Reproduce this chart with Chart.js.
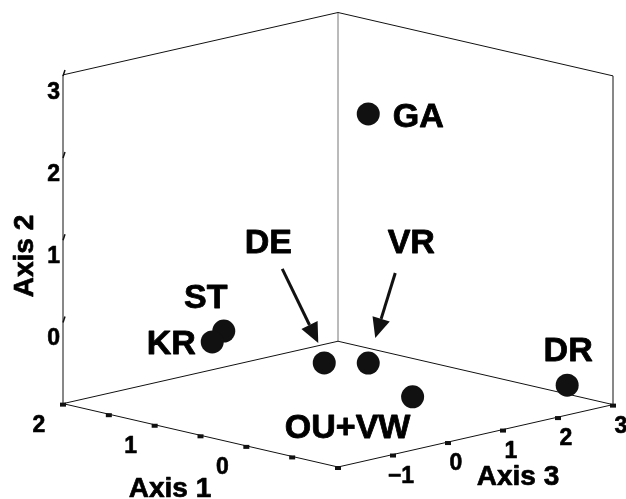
<!DOCTYPE html>
<html>
<head>
<meta charset="utf-8">
<script src="https://cdn.jsdelivr.net/npm/chart.js@4.4.1/dist/chart.umd.min.js"></script>
<style>
  html, body { margin: 0; padding: 0; background: #fff; }
  #wrap { width: 626px; height: 499px; position: relative; }
</style>
</head>
<body>
<div id="wrap"><canvas id="c"></canvas></div>
<script>
// ---- data ----
const sites  = ["GA", "ST", "KR", "DE", "VR", "OU+VW", "DR"];
const axis1  = [-0.19, 0.90, 0.90, 0.38, 0.14, -0.71, -0.68];
const axis2  = [ 2.80, 0.00, -0.10, -0.40, -0.40, -0.50, -0.80];
const axis3  = [-0.10, -0.91, -1.12, 0.05, 0.45, -0.16, 2.70];

const axis1Range = [-1, 2];
const axis2Range = [-1, 3];
const axis3Range = [-2, 3];
const axis1Ticks = [2, 1.5, 1, 0.5, 0, -0.5, -1];
const axis1Labels = ["2", "", "1", "", "0", "", ""];
const axis2Ticks = [0, 1, 2, 3];
const axis2Labels = ["0", "1", "2", "3"];
const axis3Ticks = [-2, -1, 0, 1, 2, 3];
const axis3Labels = ["", "\u22121", "0", "1", "2", "3"];

// ---- view (projection of the 3-D box onto the page plane) ----
const VIEW = { rise1: 0.2327, rise3: 0.2291, up: 0.3018 };
function project(a1, a2, a3) {
  const t1 = (a1 - axis1Range[0]) / (axis1Range[1] - axis1Range[0]);
  const t3 = (a3 - axis3Range[0]) / (axis3Range[1] - axis3Range[0]);
  return {
    x: -t1 + t3,
    y: VIEW.rise1 * t1 + VIEW.rise3 * t3 + VIEW.up * (a2 - axis2Range[0])
  };
}

// label placement (pixel offsets from each point), styling
const labelOffsets = {
  "GA": [50, 13], "ST": [-18, -23], "KR": [-41, 12], "DE": [-56, -110],
  "VR": [43, -110], "OU+VW": [-65, 41], "DR": [1, -24]
};
const arrowOffsets = {
  "DE": { from: [-42, -94], to: [-6, -20] },
  "VR": { from: [27, -90], to: [7, -25] }
};
const FONT = '"Liberation Sans", Arial, Helvetica, sans-serif';

const points = sites.map((s, i) => project(axis1[i], axis2[i], axis3[i]));

function px(chart, p) {
  return { x: chart.scales.x.getPixelForValue(p.x), y: chart.scales.y.getPixelForValue(p.y) };
}

function boldText(ctx, txt, x, y, sw) {
  ctx.fillText(txt, x, y);
  ctx.lineWidth = sw;
  ctx.strokeStyle = '#000';
  ctx.lineJoin = 'round';
  ctx.strokeText(txt, x, y);
}

const boxPlugin = {
  id: 'box3d',
  beforeDatasetsDraw(chart) {
    const ctx = chart.ctx;
    const P = (a1, a2, a3) => px(chart, project(a1, a2, a3));
    const [m1, M1] = axis1Range, [m2, M2] = axis2Range, [m3, M3] = axis3Range;
    ctx.save();
    ctx.lineCap = 'butt';
    function line(a, b, color, w) {
      ctx.beginPath(); ctx.strokeStyle = color; ctx.lineWidth = w || 1;
      ctx.moveTo(a.x, a.y); ctx.lineTo(b.x, b.y); ctx.stroke();
    }
    // back vertical (grey)
    line(P(M1, m2, M3), P(M1, M2, M3), '#777', 1);
    // verticals
    line(P(M1, m2, m3), P(M1, M2, m3), '#111', 1);
    line(P(m1, m2, M3), P(m1, M2, M3), '#111', 1);
    // top edges
    line(P(M1, M2, m3), P(M1, M2, M3), '#111', 1);
    line(P(M1, M2, M3), P(m1, M2, M3), '#111', 1);
    // floor back edges
    line(P(M1, m2, m3), P(M1, m2, M3), '#111', 1);
    line(P(M1, m2, M3), P(m1, m2, M3), '#111', 1);
    // floor front edges (axes 1 and 3)
    line(P(M1, m2, m3), P(m1, m2, m3), '#111', 1);
    line(P(m1, m2, m3), P(m1, m2, M3), '#111', 1);

    // tick marks
    ctx.fillStyle = '#111';
    axis1Ticks.forEach(v => { const q = P(v, m2, m3); ctx.fillRect(q.x - 3, q.y - 1, 6, 4); });
    axis3Ticks.forEach(v => { const q = P(m1, m2, v); ctx.fillRect(q.x - 3, q.y - 1, 6, 4); });
    axis2Ticks.forEach(v => {
      const q = P(M1, v, m3);
      line({ x: q.x, y: q.y + 1 }, { x: q.x + 2, y: q.y - 5 }, '#111', 1.5);
    });

    // tick labels
    ctx.fillStyle = '#000';
    ctx.font = 'bold 23px ' + FONT;
    ctx.textBaseline = 'alphabetic';
    ctx.textAlign = 'center';
    axis1Ticks.forEach((v, i) => {
      if (!axis1Labels[i]) return;
      const q = P(v, m2, m3); boldText(ctx, axis1Labels[i], q.x - 24, q.y + 28, 0.6);
    });
    axis3Ticks.forEach((v, i) => {
      if (!axis3Labels[i]) return;
      const q = P(m1, m2, v); boldText(ctx, axis3Labels[i], q.x + 8, q.y + 28, 0.6);
    });
    ctx.textAlign = 'right';
    axis2Ticks.forEach((v, i) => {
      const q = P(M1, v, m3); boldText(ctx, axis2Labels[i], q.x - 3, q.y + 24, 0.6);
    });

    // axis titles
    ctx.font = 'bold 28px ' + FONT;
    ctx.textAlign = 'center';
    boldText(ctx, 'Axis 1', 170, 497, 0.7);
    boldText(ctx, 'Axis 3', 518, 485, 0.7);
    ctx.save();
    ctx.translate(33, 256);
    ctx.rotate(-Math.PI / 2);
    boldText(ctx, 'Axis 2', 0, 0, 0.7);
    ctx.restore();
    ctx.restore();
  },
  afterDatasetsDraw(chart) {
    const ctx = chart.ctx;
    const meta = chart.getDatasetMeta(0);
    ctx.save();
    ctx.font = 'bold 34px ' + FONT;
    ctx.textAlign = 'center';
    ctx.textBaseline = 'alphabetic';
    sites.forEach((s, i) => {
      const el = meta.data[i];
      const off = labelOffsets[s];
      ctx.fillStyle = '#000';
      boldText(ctx, s, el.x + off[0], el.y + off[1], 0.8);
      const ar = arrowOffsets[s];
      if (ar) {
        const x0 = el.x + ar.from[0], y0 = el.y + ar.from[1];
        const x1 = el.x + ar.to[0], y1 = el.y + ar.to[1];
        const ang = Math.atan2(y1 - y0, x1 - x0);
        const L = 20, W = 9;
        const bx = x1 - L * Math.cos(ang), by = y1 - L * Math.sin(ang);
        ctx.beginPath(); ctx.strokeStyle = '#111'; ctx.lineWidth = 3;
        ctx.moveTo(x0, y0); ctx.lineTo(bx, by); ctx.stroke();
        ctx.beginPath(); ctx.fillStyle = '#111';
        ctx.moveTo(x1, y1);
        ctx.lineTo(bx + W * Math.sin(ang), by - W * Math.cos(ang));
        ctx.lineTo(bx - W * Math.sin(ang), by + W * Math.cos(ang));
        ctx.closePath(); ctx.fill();
      }
    });
    ctx.restore();
  }
};

new Chart(document.getElementById('c'), {
  type: 'scatter',
  data: {
    datasets: [{
      data: points,
      pointRadius: 11.5,
      pointHoverRadius: 11.5,
      backgroundColor: '#111',
      borderColor: '#111',
      borderWidth: 0,
      clip: false
    }]
  },
  options: {
    responsive: true,
    maintainAspectRatio: false,
    animation: false,
    layout: { padding: { left: 63, right: 13, top: 7, bottom: 32 } },
    scales: {
      x: { type: 'linear', min: -1, max: 1, display: false },
      y: { type: 'linear', min: 0, max: 1.6727, display: false }
    },
    plugins: { legend: { display: false }, tooltip: { enabled: false } },
    events: []
  },
  plugins: [boxPlugin]
});
</script>
</body>
</html>
